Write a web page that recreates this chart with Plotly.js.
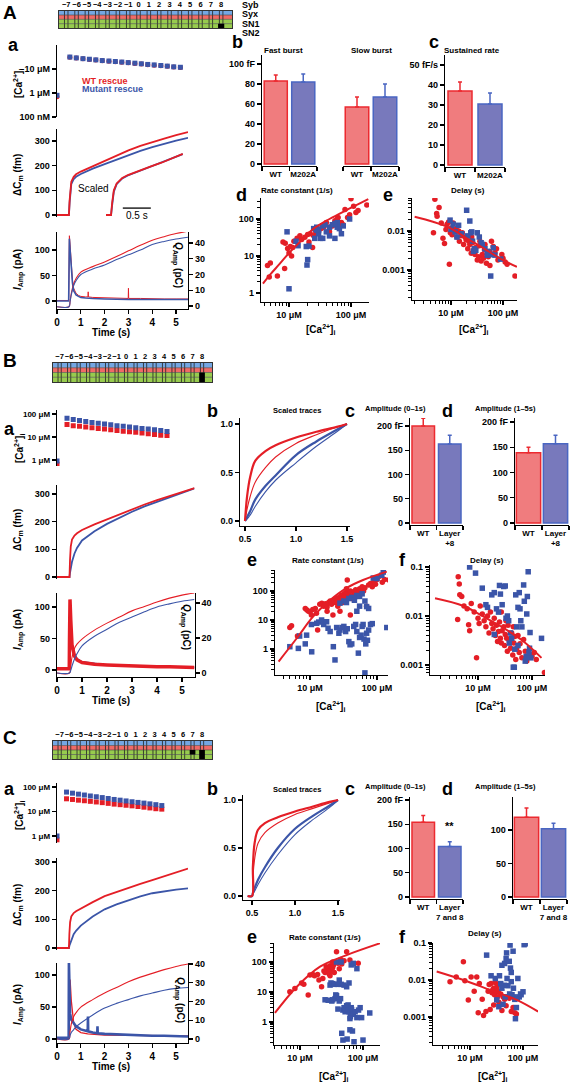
<!DOCTYPE html>
<html><head><meta charset="utf-8">
<script src="https://cdn.plot.ly/plotly-3.0.1.min.js"></script>
<style>html,body{margin:0;padding:0;background:#fff}</style>
</head><body><div id="chart" style="width:574px;height:1083px"></div>
<script>
// ================= DATA =================
const layers=[-7,-6,-5,-4,-3,-2,-1,0,1,2,3,4,5,6,7,8];
const layerLabels=['−7','−6','−5','−4','−3','−2','−1','0','1','2','3','4','5','6','7','8'];
const rowNames=['Syb','Syx','SN1','SN2'];
const mutA_layer=[8], mutA_lo=[0], mutA_hi=[1];
const mutB_layer=[8], mutB_lo=[0], mutB_hi=[2];
const mutC_layer=[7,8], mutC_lo=[1,0], mutC_hi=[2,2];

// ---- Section A ----
const tCaA=[0,0.54,0.81,1.09,1.36,1.63,1.9,2.18,2.45,2.72,2.99,3.27,3.54,3.81,4.08,4.36,4.63,4.9,5.18];
const caRedA=[0.7,31,28.5,26.5,25,23.5,22,21,20,19,18,17,16,15.2,14.5,13.7,13,12,11.5];
const caBlueA=[0.8,31.5,29,27,25.5,24,22.5,21.5,20.5,19.5,18.5,17.5,16.5,15.5,14.8,14,13.2,12.3,11.8];
const tCmA=[0,0.5,0.53,0.56,0.6,0.7,0.8,1,1.5,2,2.5,3,3.5,4,4.5,5,5.5];
const cmRedA=[0,0,60,110,135,155,165,176,198,219,242,262,280,296,310,324,336];
const cmBlueA=[0,0,50,100,125,145,155,166,188,206,225,243,260,275,290,302,313];
const tInsA=[0.41,0.5,0.52,0.55,0.6,0.7,0.8,1.0,1.2,1.4,1.6,1.78];
const insRedA=[0,0,50,100,128,150,162,180,196,212,230,248];
const insBlueA=[0,0,40,95,125,148,160,178,195,211,229,247];
const scaleBarA_t=[0.71,1.21], scaleBarA_v=[28,28];
const tIA=[0,0.49,0.5,0.52,0.55,0.6,0.65,0.7,0.8,0.9,1.0,1.2,1.3,1.31,1.32,1.5,2.0,2.5,2.99,3.0,3.01,3.5,4.0,4.5,5.0,5.5];
const iRedA=[1,1,40,128,110,70,40,25,15,11,9,8,8,18,8,7,6,5,5,25,5,5,4,4,4,4];
const iBlueA=[0,0,40,122,100,60,35,20,12,9,7,6,6,6,6,5,4,3,3,3,3,3,3,3,3,3];
const tQA=[0,0.5,0.55,0.6,0.7,0.8,1,1.5,2,2.5,3,3.5,4,4.5,5,5.5];
const qRedA=[-0.5,-0.5,3,8,14,17.5,21.5,25,28,31.5,35,38.5,41.8,44,46,47.5];
const qBlueA=[-0.5,-0.5,3,7,13,16,20,23.5,26,29.5,32.5,35.5,39,41,42.5,43.7];
const barLabelsA=['WT','M202A'];
const fastMeanA=[83,82], fastErrA=[6,8];
const slowMeanA=[57,67], slowErrA=[10,13];
const rateMeanA=[37,30.5], rateErrA=[4.5,5.5];
const kRedA=[[4.5,5.5],[5,6.5],[4.8,2.7],[6.5,2.9],[8,24],[8.7,22],[8.5,4.6],[9.5,16],[10.5,18],[10,12],[11,10],[11.5,17],[12,25],[13.5,30],[15,35],[16,28],[18,32],[20,38],[21,24],[22,40],[24,17],[25,35],[27,45],[30,50],[33,55],[36,60],[40,80],[45,60],[50,65],[55,90],[62,110],[65,60],[70,80],[80,180],[88,110],[95,130],[100,350],[110,220],[120,150],[130,170],[180,240],[60,100],[45,45],[75,70]];
const kBlueA=[[9.3,45],[10,1.3],[13,25],[14,19],[19,18],[20,8],[19.5,5.7],[21,18.5],[25,55],[26,30],[28,60],[30,50],[32,30],[35,65],[38,70],[40,45],[45,60],[50,70],[55,30],[60,80],[65,55],[70,40],[75,65],[95,100],[30,40],[45,35],[60,60],[35,30],[28,50],[55,75]];
const kFitA_x=[3.8,5,7,10,15,25,45,85,155,190], kFitA_y=[1.8,3.2,6,12,24,55,100,175,290,345];
const dRedA=[[4.6,0.009],[4.9,0.065],[5.3,0.028],[5.4,0.024],[5.9,0.04],[6.5,0.016],[7,0.0065],[7.5,0.0048],[8,0.011],[8.4,0.015],[9,0.017],[9.3,0.0014],[9.7,0.009],[10.2,0.012],[10.5,0.008],[11,0.016],[12,0.01],[12.5,0.0115],[13,0.007],[14,0.01],[14.5,0.0055],[15.5,0.0075],[16.5,0.009],[17.5,0.0045],[18.5,0.007],[19.5,0.006],[21,0.0035],[22,0.0055],[23,0.0045],[24.5,0.0027],[25,0.007],[26,0.005],[27,0.0032],[29,0.0025],[30,0.0038],[32,0.0018],[34,0.0022],[35,0.0042],[36,0.0055],[38,0.0017],[40,0.0025],[42,0.002],[44,0.0033],[45,0.0045],[48,0.0015],[52,0.0022],[55,0.003],[56,0.0013],[60,0.0055],[65,0.004],[70,0.0028],[75,0.0035],[80,0.0018],[95,0.0025],[100,0.002],[110,0.0016],[120,0.0014],[170,0.0007]];
const dBlueA=[[9.6,0.019],[10,0.011],[11,0.015],[12,0.0095],[13,0.007],[14,0.014],[16,0.0085],[20,0.034],[21,0.0075],[23,0.018],[24,0.009],[25,0.0095],[26,0.0055],[27,0.003],[28,0.0035],[30,0.0032],[32,0.009],[35,0.007],[38,0.005],[40,0.0045],[45,0.0035],[50,0.003],[50,0.0024],[55,0.0025],[58,0.0007],[60,0.0025],[65,0.0037],[70,0.0024],[90,0.0019]];
const dFitA_x=[2,4.5,9.6,20,41,87,185], dFitA_y=[0.0233,0.0173,0.0119,0.0065,0.0037,0.002,0.0012];

// ---- Section B ----
const tCaB=[0,0.4,0.65,0.9,1.15,1.4,1.65,1.9,2.15,2.4,2.65,2.9,3.15,3.4,3.65,3.9,4.15,4.4];
const caBlueB=[0.9,65,58,52,47,43,40,37,34,31,29,27,25,23.5,22,20.5,19,17.5];
const caRedB=[0.65,35,31,29,27,25,23.5,22,20.5,19,18,17,16,15,14,13,12,11.5];
const tCmB=[0,0.5,0.52,0.55,0.6,0.7,0.8,1,1.5,2,2.5,3,3.5,4,4.5,5,5.5];
const cmRedB=[0,0,60,110,135,150,158,170,190,208,228,246,262,278,293,307,321];
const cmBlueB=[0,0,15,30,55,85,105,132,165,192,215,236,255,272,288,304,320];
const tIB=[0,0.49,0.5,0.52,0.55,0.6,0.7,0.8,1.0,1.5,2,2.5,3,3.5,4,4.5,5,5.5];
const iRedB=[2,2,50,112,80,40,22,16,12,9,8,7,6,6,5,5,4,4];
const iBlueB=[2,2,10,45,44,35,25,18,13,10,8,7,6,5,5,5,4,4];
const tQB=[0,0.5,0.55,0.6,0.7,0.8,1,1.5,2,2.5,3,3.5,4,4.5,5,5.5];
const qRedB=[0,0,4,9,14,16.5,19.4,24.5,28.5,32,35.5,38,40.6,42.8,44.5,45.7];
const qBlueB=[0,0,1.5,4,8,11,15.5,21,25,29,32,35,37.7,39.5,41,42];
const tSc=[0.5,0.52,0.55,0.6,0.7,0.8,1.0,1.2,1.4,1.5];
const scRedThickB=[0,0.25,0.45,0.62,0.72,0.78,0.86,0.92,0.97,1.0];
const scRedThinB=[0,0.12,0.25,0.4,0.55,0.66,0.8,0.89,0.97,1.0];
const scBlueThickB=[0,0.04,0.1,0.22,0.36,0.47,0.68,0.82,0.94,1.0];
const scBlueThinB=[0,0.02,0.06,0.15,0.3,0.42,0.6,0.77,0.92,1.0];
const barLabelsB=['WT','Layer<br>+8'];
const amp01MeanB=[200,163], amp01ErrB=[16,18];
const amp15MeanB=[139,157], amp15ErrB=[11,17];
const kRedB=[[5,5.5],[5.3,6.3],[6.5,2.8],[8.5,25],[9,22],[9.5,20],[10,19],[10.5,15],[11,23],[12,25],[12.5,17],[13,4.5],[14,35],[15,38],[16,30],[17,36],[18,28],[19,40],[20,45],[21,35],[22,15],[23,50],[24,40],[25,55],[26,30],[27,60],[28,45],[29,70],[30,55],[31,40],[32,80],[33,65],[34,50],[35,90],[36,240],[37,60],[38,75],[40,100],[42,55],[44,70],[46,85],[48,110],[50,65],[52,90],[55,120],[58,80],[60,140],[63,100],[66,130],[70,30],[75,160],[80,180],[90,220],[100,250],[110,320],[120,200],[130,250],[150,240],[160,360],[85,140],[95,170],[45,95],[35,120],[28,20],[40,15],[18,20]];
const kBlueB=[[5,1.2],[6.7,1.05],[7,2.8],[8.9,3.0],[8.5,1.5],[10.6,0.8],[10.5,7],[12.6,7.7],[13.5,8.5],[14.9,10],[16,7],[17.7,8.7],[18.6,5.2],[20,4],[22.3,1.2],[23.6,0.42],[25,5.5],[27,3.5],[28,4.5],[30,5.5],[32,6],[34,4],[36,5],[38,1.8],[39.6,1.4],[42,1.5],[45,6],[48,7],[50,4],[52.7,0.72],[55,2.5],[58,3],[60,6],[62,7],[64,2.2],[66,0.15],[68,1.5],[70,3.5],[72,2],[75,4.5],[80,7],[85,7.5],[28,38],[32,45],[35,40],[38,55],[42,60],[46,48],[50,70],[55,65],[60,80],[66,45],[70,29],[88,280],[118,350],[124,450],[100,270],[140,5.5],[75,25],[55,30],[50,20]];
const kFitB_x=[3.4,6.3,11.1,20,35,62,140], kFitB_y=[0.37,2.3,13,49,127,240,465];
const dRedB=[[4.2,0.0085],[4.3,0.063],[4.5,0.045],[4.6,0.027],[5,0.025],[5.5,0.016],[6.3,0.014],[6.7,0.0066],[7,0.005],[7.5,0.018],[8.5,0.012],[9.4,0.0014],[10,0.009],[10.5,0.007],[11,0.016],[12,0.011],[13,0.008],[14,0.006],[15,0.01],[16,0.0045],[17,0.012],[18,0.007],[19,0.0055],[20,0.009],[21,0.004],[22,0.0065],[23,0.003],[24,0.0048],[25,0.0075],[26,0.0035],[27,0.0028],[28,0.005],[30,0.006],[31,0.0025],[32,0.0042],[34,0.0035],[35,0.0019],[36,0.0065],[38,0.003],[40,0.0022],[42,0.0045],[44,0.0016],[46,0.0028],[48,0.0038],[50,0.0013],[52,0.0022],[55,0.004],[58,0.0018],[60,0.0027],[65,0.0014],[70,0.0033],[75,0.0019],[80,0.0012],[90,0.0017],[100,0.0015],[110,0.0018],[120,0.0013],[170,0.0007],[45,0.006],[33,0.008],[27,0.012]];
const dBlueB=[[7,0.1],[9,0.075],[12,0.037],[14,0.017],[15,0.015],[18,0.027],[20,0.03],[22,0.014],[24,0.012],[25,0.042],[26,0.028],[28,0.017],[30,0.04],[32,0.041],[33,0.009],[35,0.01],[37,0.008],[40,0.0045],[42,0.0035],[45,0.0009],[47,0.0009],[50,0.027],[52,0.006],[55,0.015],[58,0.03],[60,0.014],[62,0.008],[65,0.006],[70,0.043],[72,0.02],[75,0.0012],[78,0.0015],[80,0.011],[82,0.025],[85,0.08],[88,0.0018],[90,0.0022],[92,0.0046],[95,0.0014],[150,0.0035],[48,0.0021],[55,0.0025],[38,0.0028],[20,0.0042]];
const dFitB_x=[1.6,5.4,12.3,29,68,150], dFitB_y=[0.023,0.016,0.0099,0.0058,0.0031,0.0014];

// ---- Section C ----
const tCaC=[0,0.4,0.65,0.9,1.15,1.4,1.65,1.9,2.15,2.4,2.65,2.9,3.15,3.4,3.65,3.9,4.15,4.4];
const caBlueC=[1.0,62,56,51,47,43,40,37,34,31,29,27,25,23.5,22,20.5,19,17.5];
const caRedC=[0.7,33,31,29,27.5,26,24.5,23,21.5,20,19,18,17,16,15,14,13,12.5];
const tCmC=[0,0.5,0.52,0.55,0.6,0.7,0.8,1,1.5,2,2.5,3,3.5,4,4.5,5,5.5];
const cmRedC=[0,0,50,90,110,122,128,138,160,181,196,210,224,237,251,264,277];
const cmBlueC=[0,0,8,15,30,48,60,78,110,135,152,167,180,191,198,204,208];
const tIC=[0,0.49,0.5,0.52,0.55,0.6,0.7,0.8,1.0,1.29,1.3,1.31,1.5,1.69,1.7,1.71,2,2.5,3,3.5,4,4.5,5,5.5];
const iRedC=[2,2,40,85,93,60,25,15,10,8,8,8,7,7,7,7,6,6,5,5,5,5,5,5];
const iBlueC=[2,2,120,60,40,30,25,20,15,12,35,12,10,9,20,9,8,7,6,5,5,5,4,4];
const tQC=[0,0.5,0.55,0.6,0.7,0.8,1,1.5,2,2.5,3,3.5,4,4.5,5,5.5];
const qRedC=[0,0,4,8,12,14,17,21,24.5,27.5,30.5,33,35,37,38.7,40];
const qBlueC=[0,0,2,3.5,5,6.5,8.5,12.8,16.5,19,21,23,24.5,26,27,27.5];
const tScC=[0.45,0.5,0.51,0.53,0.57,0.65,0.8,1.0,1.2,1.4,1.5];
const scRedThickC=[0,0,0.3,0.55,0.69,0.76,0.82,0.88,0.93,0.98,1.0];
const scRedThinC=[0,0,0.18,0.38,0.55,0.66,0.76,0.85,0.91,0.97,1.0];
const scBlueThickC=[0,0,0.03,0.08,0.17,0.3,0.5,0.7,0.83,0.94,1.0];
const scBlueThinC=[0,0,0.02,0.05,0.12,0.24,0.43,0.64,0.79,0.92,1.0];
const barLabelsC=['WT','Layer<br>7 and 8'];
const amp01MeanC=[154,104], amp01ErrC=[14,10];
const amp15MeanC=[119,102], amp15ErrC=[14,8];
const kRedC=[[6.9,10.2],[8.3,13],[10.6,20],[11.5,18],[13.5,8],[14.4,37],[16,38],[17,35],[19,38],[20,25],[22,15],[23,28],[25,45],[26,70],[27,55],[28,62],[29,40],[30,75],[31,50],[32,58],[33,65],[34,80],[35,45],[36,100],[38,220],[40,90],[42,60],[44,120],[46,85],[50,110],[55,220],[62,117],[84,90],[30,35],[28,48],[33,100],[24,50]];
const kBlueC=[[25,5.5],[28,5.3],[30,17],[31,20],[32,5],[33,19],[35,18],[36,6],[37,8],[38,100],[38,7.5],[40,2.7],[42,5],[44,6],[45,100],[46,0.42],[48,2.5],[48,0.25],[50,3],[52,2.2],[55,3.5],[56,0.27],[58,2.6],[58,3.7],[60,2.2],[62,0.55],[63,1.5],[65,3],[66,2.6],[68,0.5],[70,1.8],[72,0.22],[75,2.2],[80,1.4],[85,2.5],[90,3],[95,1.4],[100,0.25],[128,2.0],[55,15],[60,20],[65,80],[50,17],[70,90],[80,60],[45,18],[42,25],[62,1.3],[33,5.5],[40,18]];
const kFitC_x=[4,8.9,20.8,55,186], kFitC_y=[2.0,15,70,170,420];
const dRedC=[[4.2,0.0089],[5.5,0.012],[7.5,0.031],[8,0.0095],[9.3,0.0029],[10.5,0.012],[12,0.005],[13.4,0.012],[14.3,0.0013],[15,0.008],[17,0.003],[18,0.0011],[20,0.0014],[22,0.005],[23,0.0075],[25,0.008],[26,0.0045],[27,0.0055],[28,0.006],[29,0.004],[30,0.0085],[31,0.0048],[32,0.0065],[33,0.0035],[34,0.005],[35,0.0025],[36,0.0078],[38,0.0042],[40,0.0015],[42,0.0035],[45,0.003],[48,0.002],[50,0.0035],[55,0.0032],[60,0.0014],[65,0.0018],[70,0.0013],[75,0.0012],[28,0.0021],[24,0.0016]];
const dBlueC=[[20.6,0.047],[25,0.013],[30,0.011],[32,0.0029],[35,0.0019],[36,0.013],[38,0.008],[40,0.025],[42,0.0022],[45,0.028],[46,0.0035],[48,0.038],[49,0.054],[50,0.011],[52,0.007],[55,0.032],[56,0.0042],[57,0.088],[58,0.021],[60,0.016],[62,0.004],[65,0.06],[66,0.006],[68,0.0035],[70,0.003],[72,0.0009],[75,0.0018],[78,0.0032],[80,0.011],[85,0.0035],[90,0.0042],[92,0.004],[100,0.0048],[105,0.09],[110,0.095],[45,0.0072],[60,0.009],[40,0.006]];
const dFitC_x=[2.35,7.5,23.8,76,193], dFitC_y=[0.017,0.01,0.0054,0.0029,0.0014];

// ================= STYLE / HELPERS =================
const F='Liberation Sans, Arial, sans-serif';
const RED='#E41E26', BLUE='#3B55A8';
const REDFILL='#F07C7E', BLUEFILL='#7879BC', REDEDGE='#EC2A30', BLUEEDGE='#4A66C2';
const rowColors=['#74A7E3','#F06A66','#97CB4E','#97CB4E'];
const W=574,H=1083;
function TF(s){return {family:F,size:s,color:'#000',weight:'bold'};}
const BASE={showgrid:false,zeroline:false,showline:true,linecolor:'#000',linewidth:1.3,ticks:'outside',ticklen:4,tickwidth:1.2,tickcolor:'#000',tickfont:TF(9),fixedrange:true};
const layout={width:W,height:H,margin:{l:0,r:0,t:0,b:0},paper_bgcolor:'#fff',plot_bgcolor:'rgba(0,0,0,0)',showlegend:false,barmode:'overlay',annotations:[],shapes:[]};
const data=[];
function xd(a,b){return [a/W,b/W];}
function yd(t,b){return [1-b/H,1-t/H];}
function lin(a,b,p1,v1,p2,v2){const k=(v2-v1)/(p2-p1);return [v1+(a-p1)*k, v1+(b-p1)*k];}
let nx=0,ny=0;
function axKey(id){return (id[0]==='x'?'xaxis':'yaxis')+id.slice(1);}
function addAx(kind,o){const n=kind==='x'?++nx:++ny;const id=kind+(n===1?'':n);layout[axKey(id)]=Object.assign(JSON.parse(JSON.stringify(BASE)),o);return id;}
function pair(xo,yo){const x=addAx('x',xo),y=addAx('y',yo);layout[axKey(x)].anchor=y;layout[axKey(y)].anchor=x;return {x,y};}
function minors(d0,d1){const a=[];for(let d=d0;d<=d1;d++)for(let m=2;m<=9;m++)a.push(m*Math.pow(10,d));return a;}
function line(x,y,xa,ya,color,width,shape){data.push({type:'scatter',mode:'lines',x,y,xaxis:xa,yaxis:ya,line:{color,width,shape:shape||'linear'},hoverinfo:'skip'});}
function pts(x,y,xa,ya,color,symbol,size){data.push({type:'scatter',mode:'markers',x,y,xaxis:xa,yaxis:ya,marker:{color,symbol,size,line:{width:0}},hoverinfo:'skip'});}
function bar(x,y,err,xa,ya,fill,edge,w){data.push({type:'bar',x,y,xaxis:xa,yaxis:ya,width:w,marker:{color:fill,line:{color:edge,width:1.5}},error_y:{type:'data',symmetric:false,array:err,arrayminus:err.map(()=>0),color:edge,thickness:1.5,width:2},hoverinfo:'skip'});}
function txt(px,py,text,size,o){layout.annotations.push(Object.assign({xref:'paper',yref:'paper',x:px/W,y:1-py/H,text,showarrow:false,xanchor:'center',yanchor:'middle',font:{family:F,size:size||9,color:'#000',weight:'bold'}},o||{}));}
const X=a=>a.map(p=>p[0]), Y=a=>a.map(p=>p[1]);

// ================= BUILDERS =================
function diagram(xa,xb,yt,yb,mL,mLo,mHi){
  const p=pair({domain:xd(xa,xb),range:[-7.7,9.05],side:'top',tickvals:layers,ticktext:layerLabels,tickangle:0,ticks:'',ticklen:0,mirror:true,linecolor:'#333',linewidth:1,tickfont:TF(7.5)},
               {domain:yd(yt,yb),range:[0,4],showticklabels:false,ticks:'',mirror:true,linecolor:'#333',linewidth:1});
  rowColors.forEach((c,i)=>layout.shapes.push({type:'rect',xref:p.x+' domain',x0:0,x1:1,yref:p.y,y0:3-i,y1:4-i,fillcolor:c,line:{width:0},layer:'below'}));
  [1,2,3].forEach(v=>layout.shapes.push({type:'line',xref:p.x+' domain',x0:0,x1:1,yref:p.y,y0:v,y1:v,line:{color:'#444',width:0.6}}));
  const lx=[],ly=[];layers.forEach(L=>{lx.push(L-0.17,L-0.17,null,L+0.17,L+0.17,null);ly.push(0,4,null,0,4,null);});
  line(lx,ly,p.x,p.y,'#222',0.8);
  mL.forEach((L,i)=>layout.shapes.push({type:'rect',xref:p.x,yref:p.y,x0:L-0.3,x1:L+0.3,y0:mLo[i],y1:mHi[i],fillcolor:'#000',line:{width:0}}));
  return p;
}
function caPanel(xdom,tmax,ytop,ybot,yr,tv,tt,t,red,blue,redSym,fs){
  const p=pair({domain:xdom,range:[0,tmax],visible:false},{domain:yd(ytop,ybot),type:'log',range:yr,tickvals:tv,ticktext:tt,tickfont:TF(fs)});
  pts(t,red,p.x,p.y,RED,redSym,5); pts(t,blue,p.x,p.y,BLUE,'square',5);
  return p;
}
function cmPanel(xdom,tmax,ytop,ybot,yr,t,red,blue){
  const p=pair({domain:xdom,range:[0,tmax],visible:false},{domain:yd(ytop,ybot),range:yr,tickvals:[0,100,200,300]});
  line(t,blue,p.x,p.y,BLUE,1.8); line(t,red,p.x,p.y,RED,1.8);
  return p;
}
function curPanel(xdom,tmax,ytop,ybot,yrL,yrR,qticks,tI,iR,iB,wR,wB,blueTop,tQ,qR,qB){
  const p=pair({domain:xdom,range:[0,tmax],tickvals:[0,1,2,3,4,5],ticktext:['0','1','2','3','4','5'],tickfont:TF(10)},
               {domain:yd(ytop,ybot),range:yrL,tickvals:[0,50,100]});
  const yr=addAx('y',{domain:yd(ytop,ybot),range:yrR,overlaying:p.y,side:'right',anchor:p.x,tickvals:qticks});
  if(blueTop){line(tI,iR,p.x,p.y,RED,wR);line(tI,iB,p.x,p.y,BLUE,wB);} else {line(tI,iB,p.x,p.y,BLUE,wB);line(tI,iR,p.x,p.y,RED,wR);}
  line(tQ,qR,p.x,yr,RED,1.1,'spline'); line(tQ,qB,p.x,yr,BLUE,1.1,'spline');
  return p;
}
function scaledPanel(xa,xb,ytop,ybot,xr,yr,t,rT,rN,bT,bN){
  const p=pair({domain:xd(xa,xb),range:xr,tickvals:[0.5,1,1.5],ticktext:['0.5','1.0','1.5']},
               {domain:yd(ytop,ybot),range:yr,tickvals:[0,0.5,1],ticktext:['0.0','0.5','1.0']});
  line(t,rN,p.x,p.y,RED,1.1,'spline'); line(t,bN,p.x,p.y,BLUE,1.1,'spline');
  line(t,bT,p.x,p.y,BLUE,2.2,'spline'); line(t,rT,p.x,p.y,RED,2.2,'spline');
  return p;
}
function barPanel(xa,xb,ytop,ybot,yr,tv,tt,labels,mean,err,w){
  const p=pair({domain:xd(xa,xb),range:[-0.5,1.5],tickvals:[0,1],ticktext:labels,ticklen:0,tickfont:TF(8),minor:{tickvals:[-0.5,0.5,1.5],ticks:'outside',ticklen:4,tickcolor:'#000',tickwidth:1.2}},
               {domain:yd(ytop,ybot),range:yr,tickvals:tv,ticktext:tt});
  bar([0],[mean[0]],[err[0]],p.x,p.y,REDFILL,REDEDGE,w);
  bar([1],[mean[1]],[err[1]],p.x,p.y,BLUEFILL,BLUEEDGE,w);
  return p;
}
function scatterPanel(xa,xb,ytop,ybot,xr,yr,ytv,ytt,yd0,yd1,red,blue,fx,fy){
  const p=pair({domain:xd(xa,xb),type:'log',range:xr,tickvals:[10,100],ticktext:['10 μM','100 μM'],minor:{tickvals:minors(0,2),ticks:'outside',ticklen:2.5,tickcolor:'#000',tickwidth:1}},
               {domain:yd(ytop,ybot),type:'log',range:yr,tickvals:ytv,ticktext:ytt,minor:{tickvals:minors(yd0,yd1),ticks:'outside',ticklen:2.5,tickcolor:'#000',tickwidth:1}});
  pts(X(red),Y(red),p.x,p.y,RED,'circle',5.5);
  pts(X(blue),Y(blue),p.x,p.y,BLUE,'square',5.5);
  line(fx,fy,p.x,p.y,RED,2,'spline');
  return p;
}

// ================= SECTION A =================
diagram(59,232,10.7,28,mutA_layer,mutA_lo,mutA_hi);
rowNames.forEach((n,i)=>txt(240,[5,14,24,33][i],n,9,{xanchor:'left'}));
caPanel(xd(57,188),5.5,45,117,lin(117,45,93,0,69,1),[0.1,1,10],['100 nM','1 μM','10 μM'],tCaA,caRedA,caBlueA,'circle',9);
const cmA=cmPanel(xd(57,188),5.5,129,217,lin(217,129,215,0,141,300),tCmA,cmRedA,cmBlueA);
const insX=addAx('x',{domain:xd(106,185),range:[0.41,1.82],visible:false,anchor:cmA.y});
line(tInsA,insBlueA,insX,cmA.y,BLUE,1.8); line(tInsA,insRedA,insX,cmA.y,RED,1.8);
line(scaleBarA_t,scaleBarA_v,insX,cmA.y,'#000',1.3);
curPanel(xd(57,188),5.5,232,309,lin(309,232,301,0,250,100),lin(309,232,306,0,243,40),[0,10,20,30,40],tIA,iRedA,iBlueA,1,1.6,true,tQA,qRedA,qBlueA);
const bA=barPanel(262,317,55,166,lin(166,55,164,0,64,100),[0,20,40,60,80,100],['0','20','40','60','80','100 fF'],barLabelsA,fastMeanA,fastErrA,0.84);
const slowX=addAx('x',{domain:xd(343,399),range:[-0.5,1.5],anchor:bA.y,tickvals:[0,1],ticktext:barLabelsA,ticklen:0,tickfont:TF(8),minor:{tickvals:[-0.5,0.5,1.5],ticks:'outside',ticklen:4,tickcolor:'#000',tickwidth:1.2}});
bar([0],[slowMeanA[0]],[slowErrA[0]],slowX,bA.y,REDFILL,REDEDGE,0.84);
bar([1],[slowMeanA[1]],[slowErrA[1]],slowX,bA.y,BLUEFILL,BLUEEDGE,0.84);
barPanel(445,505,55,167,lin(167,55,165,0,65,50),[0,10,20,30,40,50],['0','10','20','30','40','50 fF/s'],barLabelsA,rateMeanA,rateErrA,0.8);
scatterPanel(261,369,198,302,lin(261,369,289,1,351,2),lin(302,198,293,0,219,2),[1,10,100],['1','10','100'],0,2,kRedA,kBlueA,kFitA_x,kFitA_y);
scatterPanel(412,517,198,300,lin(412,517,451,1,503,2),lin(300,198,270,-3,231,-2),[0.001,0.01],['0.001','0.01'],-4,-2,dRedA,dBlueA,dFitA_x,dFitA_y);

// ================= SECTION B =================
diagram(53,212,363,382,mutB_layer,mutB_lo,mutB_hi);
caPanel(xd(57,194.5),5.5,410,466,lin(466,410,460,0,414,2),[1,10,100],['1 μM','10 μM','100 μM'],tCaB,caRedB,caBlueB,'square',8);
cmPanel(xd(57,194.5),5.5,485,579,lin(579,485,577,0,494,300),tCmB,cmRedB,cmBlueB);
curPanel(xd(57,194.5),5.5,593,677,lin(677,593,670,0,607,100),lin(677,593,673,0,603,40),[0,20,40],tIB,iRedB,iBlueB,3.5,1.6,false,tQB,qRedB,qBlueB);
scaledPanel(240,350,418,526,lin(240,350,245,0.5,347,1.5),lin(526,418,521,0,424,1),tSc,scRedThickB,scRedThinB,scBlueThickB,scBlueThinB);
barPanel(410,463,418,525,lin(525,418,523,0,426,200),[0,50,100,150,200],['0','50','100','150','200 fF'],barLabelsB,amp01MeanB,amp01ErrB,0.85);
barPanel(515,569,418,525,lin(525,418,523,0,422,200),[0,50,100,150,200],['0','50','100','150','200 fF'],barLabelsB,amp15MeanB,amp15ErrB,0.9);
scatterPanel(275,388,570,675,lin(275,388,310,1,377,2),lin(675,570,649,0,591,2),[1,10,100],['1','10','100'],-1,2,kRedB,kBlueB,kFitB_x,kFitB_y);
scatterPanel(430,545,565,675,lin(430,545,478,1,532,2),lin(675,565,665,-3,567,-1),[0.001,0.01,0.1],['0.001','0.01','0.1'],-4,-1,dRedB,dBlueB,dFitB_x,dFitB_y);

// ================= SECTION C =================
diagram(53,212,741,759,mutC_layer,mutC_lo,mutC_hi);
caPanel(xd(57,188),5.5,783,843,lin(843,783,836,0,787,2),[1,10,100],['1 μM','10 μM','100 μM'],tCaC,caRedC,caBlueC,'square',8);
cmPanel(xd(57,188),5.5,858,950,lin(950,858,948,0,862,300),tCmC,cmRedC,cmBlueC);
curPanel(xd(57,188),5.5,963,1043,lin(1043,963,1039,0,975,100),lin(1043,963,1039,0,964,40),[0,10,20,30,40],tIC,iRedC,iBlueC,1.3,2.6,true,tQC,qRedC,qBlueC);
scaledPanel(243,340,795,900,lin(243,340,252,0.5,338,1.5),lin(900,795,896,0,800,1),tScC,scRedThickC,scRedThinC,scBlueThickC,scBlueThinC);
barPanel(410,463,797,899,lin(899,797,897,0,800,200),[0,50,100,150,200],['0','50','100','150','200 fF'],barLabelsC,amp01MeanC,amp01ErrC,0.85);
barPanel(513,567,797,899,lin(899,797,897,0,830,100),[0,50,100,150],['0','50','100','150 fF'],barLabelsC,amp15MeanC,amp15ErrC,0.9);
scatterPanel(274,380,943,1045,lin(274,380,300,1,363,2),lin(1045,943,1022,0,962,2),[1,10,100],['1','10','100'],-1,2,kRedC,kBlueC,kFitC_x,kFitC_y);
scatterPanel(433,538,943,1045,lin(433,538,470,1,523,2),lin(1045,943,1017,-3,943,-1),[0.001,0.01,0.1],['0.001','0.01','0.1'],-4,-1,dRedC,dBlueC,dFitC_x,dFitC_y);

// ================= TEXT =================
const CA='[Ca<sup>2+</sup>]<sub>i</sub>', DCM='ΔC<sub>m</sub> (fm)', IAMP='<i>I</i><sub>Amp</sub> (pA)', QAMP='<i>Q</i><sub>Amp</sub> (pC)';
txt(10,12,'A',19); txt(10,361,'B',19); txt(10,737,'C',19);
// A
txt(13,45,'a',18); txt(237,42,'b',18); txt(434,42,'c',18); txt(241,195,'d',18); txt(388,195,'e',18);
txt(283,51,'Fast burst',8); txt(371,51,'Slow burst',8); txt(472,51,'Sustained rate',8);
txt(297,190,'Rate constant (1/s)',8); txt(468,190,'Delay (s)',8);
txt(80,81,'WT rescue',9,{xanchor:'left',font:{family:F,size:9,color:RED,weight:'bold'}});
txt(80,89,'Mutant rescue',9,{xanchor:'left',font:{family:F,size:9,color:BLUE,weight:'bold'}});
txt(94,188,'Scaled',10,{font:{family:F,size:10,color:'#000'}});
txt(137,216,'0.5 s',10,{font:{family:F,size:10,color:'#000'}});
txt(18,84,CA,10,{textangle:-90}); txt(18,175,DCM,10,{textangle:-90}); txt(18,270,IAMP,10,{textangle:-90});
txt(178,265,QAMP,10,{textangle:90}); txt(111,333,'Time (s)',10);
txt(320,329,CA,10); txt(473,329,CA,10);
// B
txt(9,429,'a',18); txt(212,411,'b',18); txt(350,411,'c',18); txt(447,411,'d',18); txt(252,560,'e',18); txt(402,560,'f',18);
txt(297,411,'Scaled traces',7.5); txt(395,409,'Amplitude (0–1s)',7.5); txt(505,409,'Amplitude (1–5s)',7.5);
txt(328,560,'Rate constant (1/s)',8); txt(487,560,'Delay (s)',8);
txt(19,449,CA,10,{textangle:-90}); txt(18,530,DCM,10,{textangle:-90}); txt(18,630,IAMP,10,{textangle:-90});
txt(186,627,QAMP,10,{textangle:90}); txt(111,700,'Time (s)',10);
txt(330,706,CA,10); txt(490,706,CA,10);
// C
txt(9,789,'a',18); txt(212,789,'b',18); txt(350,789,'c',18); txt(447,789,'d',18); txt(252,937,'e',18); txt(402,937,'f',18);
txt(297,789,'Scaled traces',7.5); txt(395,786,'Amplitude (0–1s)',7.5); txt(505,786,'Amplitude (1–5s)',7.5);
txt(325,937,'Rate constant (1/s)',8); txt(485,933,'Delay (s)',8);
txt(449,826,'**',11);
txt(19,816,CA,10,{textangle:-90}); txt(18,905,DCM,10,{textangle:-90}); txt(18,1005,IAMP,10,{textangle:-90});
txt(180,1000,QAMP,10,{textangle:90}); txt(111,1066,'Time (s)',10);
txt(333,1076,CA,10); txt(492,1076,CA,10);

Plotly.newPlot('chart',data,layout,{displayModeBar:false,staticPlot:true});
</script></body></html>
